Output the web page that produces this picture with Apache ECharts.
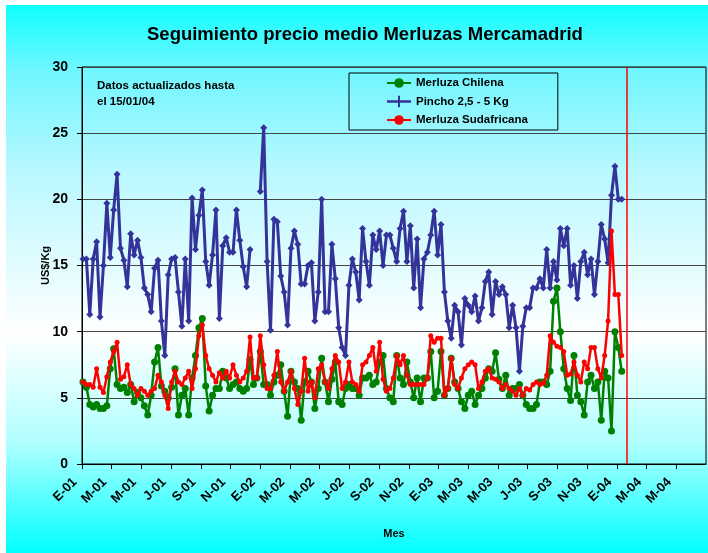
<!DOCTYPE html>
<html>
<head>
<meta charset="utf-8">
<script src="https://cdn.jsdelivr.net/npm/echarts@6/dist/echarts.min.js"></script>
<style>
    html, body { margin: 0; padding: 0; background: #ffffff; }
    #myChart { width: 708px; height: 553px; }
</style>
</head>
<body>
<div id="myChart"></div>
<script>
// semanas: dia 0 = 01/01/2001, un precio medio por semana
const firstDay = 2;
const stepDays = 7;
const monthLetters = ['E', 'F', 'M', 'A', 'M', 'J', 'J', 'A', 'S', 'O', 'N', 'D'];
const seriesNames = ['Merluza Chilena', 'Pincho 2,5 - 5 Kg', 'Merluza Sudafricana'];
const updateDay = 1119; // linea roja vertical

const chilena = [
    6.2, 5.8, 4.5, 4.3, 4.5, 4.2, 4.2, 4.4, 7.2, 8.7,
    6.0, 5.7, 5.8, 5.4, 6.0, 4.7, 5.4, 5.0, 4.4, 3.7,
    5.2, 7.7, 8.8, 5.9, 5.5, 5.0, 5.8, 7.2, 3.7, 5.2,
    5.7, 3.7, 6.5, 8.2, 10.3, 11.0, 5.9, 4.0, 5.2, 5.7,
    5.7, 7.0, 6.5, 5.7, 6.0, 6.2, 5.7, 5.5, 5.7, 7.9,
    6.0, 6.5, 8.5, 6.0, 6.0, 5.2, 6.2, 6.7, 7.5, 5.5,
    3.6, 7.0, 6.2, 5.7, 3.3, 6.2, 7.0, 6.2, 4.2, 5.7,
    8.0, 6.2, 4.7, 6.4, 7.7, 4.7, 4.5, 5.7, 6.0, 5.7,
    5.7, 5.2, 6.5, 6.5, 6.7, 6.0, 6.2, 7.7, 8.2, 5.7,
    5.0, 4.7, 8.2, 6.5, 6.0, 7.7, 6.2, 5.0, 6.5, 4.7,
    6.5, 6.5, 8.5, 5.0, 5.5, 8.5, 5.2, 5.7, 8.0, 6.2,
    5.7, 4.7, 4.2, 5.2, 5.5, 4.5, 5.2, 5.7, 6.5, 7.2,
    7.0, 8.4, 6.4, 5.7, 6.7, 5.2, 5.7, 5.7, 6.0, 5.2,
    4.5, 4.2, 4.2, 4.5, 6.2, 6.2, 6.0, 7.0, 12.3, 13.3,
    10.0, 7.2, 5.7, 4.8, 8.2, 5.2, 4.7, 3.7, 6.2, 6.7,
    5.7, 6.2, 3.3, 7.0, 6.5, 2.5, 10.0, 8.8, 7.0
];

const pincho = [
    15.5, 15.5, 11.3, 15.5, 16.8, 11.1, 15.0, 19.7, 15.6, 19.2,
    21.9, 16.3, 15.4, 13.4, 17.4, 15.8, 16.9, 15.6, 13.3, 12.8,
    11.5, 14.8, 15.4, 10.8, 8.2, 14.3, 15.5, 15.6, 13.0, 10.4,
    15.5, 10.8, 20.1, 16.2, 18.8, 20.7, 15.3, 13.5, 15.8, 19.2,
    11.0, 16.5, 17.1, 16.0, 16.0, 19.2, 16.9, 14.9, 13.4, 16.2,
    null, null, 20.6, 25.4, 15.3, 10.1, 18.5, 18.3, 14.2, 13.0,
    10.5, 16.3, 17.6, 16.6, 13.6, 13.6, 15.0, 15.2, 10.8, 13.0,
    20.0, 11.5, 11.5, 16.6, 14.0, 10.3, 8.8, 8.2, 13.5, 15.5,
    14.5, 12.4, 17.8, 15.3, 13.5, 17.3, 16.2, 17.6, 15.0, 17.3,
    17.3, 16.3, 15.3, 17.8, 19.1, 15.3, 18.0, 13.3, 17.0, 11.8,
    15.5, 16.0, 17.3, 19.1, 15.8, 18.1, 13.0, 10.8, 9.5, 12.0,
    11.5, 9.0, 12.5, 12.0, 11.5, 12.7, 10.8, 11.8, 13.8, 14.5,
    11.3, 13.8, 12.8, 13.4, 12.8, 10.3, 12.0, 10.3, 7.0, 10.4,
    11.8, 11.8, 13.3, 13.3, 14.0, 13.3, 16.2, 13.3, 15.3, 13.9,
    17.8, 16.5, 17.8, 13.5, 15.0, 12.5, 15.3, 16.0, 14.3, 15.5,
    12.8, 15.3, 18.1, 17.0, 15.2, 20.3, 22.5, 20.0, 20.0
];

const sudafricana = [
    6.2, 6.0, 6.0, 5.8, 7.2, 5.8, 5.4, 6.6, 7.7, 8.5,
    9.2, 6.4, 6.6, 7.5, 6.0, 5.7, 5.2, 5.7, 5.5, 5.2,
    5.5, 5.7, 6.7, 6.2, 5.2, 4.2, 6.2, 7.0, 6.2, 6.0,
    6.5, 7.0, 5.7, 7.2, 9.7, 10.5, 8.2, 7.2, 6.7, 6.2,
    6.9, 6.5, 7.0, 6.5, 7.5, 6.7, 6.2, 6.5, 7.0, 9.6,
    6.5, 6.5, 9.7, 7.5, 5.7, 5.7, 6.7, 8.5, 6.2, 5.5,
    6.2, 7.0, 5.7, 4.5, 5.5, 8.0, 5.5, 6.2, 5.0, 7.2,
    7.5, 6.2, 5.7, 7.2, 8.2, 7.7, 5.7, 6.2, 7.7, 6.2,
    6.0, 5.5, 7.5, 7.7, 8.2, 8.8, 7.0, 9.2, 6.4, 5.5,
    5.7, 6.5, 8.2, 7.5, 8.2, 6.7, 6.0, 6.0, 6.0, 6.0,
    6.0, 6.5, 9.7, 9.2, 9.5, 9.5, 5.2, 5.7, 8.0, 6.0,
    5.7, 6.5, 7.2, 7.5, 7.7, 7.5, 5.7, 6.2, 7.0, 7.2,
    6.5, 6.4, 6.2, 5.7, 6.0, 5.7, 5.5, 5.2, 5.7, 5.2,
    5.7, 5.6, 6.0, 6.2, 6.0, 6.1, 6.7, 9.7, 9.2, 8.9,
    8.8, 8.5, 6.7, 6.8, 7.7, 6.7, 6.2, 7.7, 7.2, 8.8,
    8.8, 7.2, 6.5, 8.2, 10.8, 17.6, 12.8, 12.8, 8.2
];

function toPoints(values) {
    return values.map(function (v, i) { return [firstDay + stepDays * i, v]; });
}

function dayLabel(value) {
    let d = new Date(Date.UTC(2001, 0, 1) + value * 86400000);
    return monthLetters[d.getUTCMonth()] + '-' + String(d.getUTCFullYear()).slice(2);
}

let myChart = echarts.init(document.getElementById('myChart'));
let boldText = { fontFamily: 'Liberation Sans, Arial, sans-serif', fontWeight: 'bold', color: '#000000' };

myChart.setOption({
    animation: false,
    backgroundColor: 'transparent',
    textStyle: boldText,
    graphic: [
        {
            type: 'rect', z: -10, silent: true,
            shape: { x: 6, y: 5, width: 702, height: 548 },
            style: {
                fill: new echarts.graphic.LinearGradient(0, 0, 0, 1, [
                    { offset: 0, color: '#10ffff' },
                    { offset: 0.12, color: '#70f6ff' },
                    { offset: 0.3, color: '#b8f8ff' },
                    { offset: 0.6, color: '#ffffff' },
                    { offset: 0.8, color: '#b0ffff' },
                    { offset: 1, color: '#00ffff' }
                ])
            }
        },
        {
            type: 'text', left: 97, top: 78,
            style: {
                text: 'Datos actualizados hasta\nel 15/01/04',
                font: 'bold 11.5px Liberation Sans, Arial, sans-serif',
                fill: '#000000',
                lineHeight: 16
            }
        }
    ],
    title: {
        text: 'Seguimiento precio medio Merluzas Mercamadrid',
        left: 142,
        top: 20,
        textStyle: Object.assign({}, boldText, { fontSize: 18.5 })
    },
    legend: {
        data: [
            { name: seriesNames[0] },
            { name: seriesNames[1], icon: 'path://M0,4.5 L24,4.5 L24,7 L0,7 Z M11,0 L13,0 L13,11.5 L11,11.5 Z' },
            { name: seriesNames[2] }
        ],
        orient: 'vertical',
        left: 349,
        top: 73,
        padding: [4, 30, 4, 37],
        itemGap: 6.5,
        itemWidth: 24,
        itemHeight: 12,
        borderColor: '#000000',
        borderWidth: 1,
        textStyle: Object.assign({}, boldText, { fontSize: 11.5 })
    },
    grid: {
        left: 82, right: 2, top: 67, bottom: 89,
        show: true,
        borderColor: '#000000',
        borderWidth: 1,
        backgroundColor: 'transparent',
        outerBoundsMode: 'none'
    },
    xAxis: {
        type: 'value',
        min: 0,
        max: 1281,
        interval: 61,
        name: 'Mes',
        nameLocation: 'middle',
        nameGap: 64,
        nameMoveOverlap: false,
        nameTextStyle: Object.assign({}, boldText, { fontSize: 11 }),
        axisLine: { show: true, lineStyle: { color: '#000000', width: 1 } },
        axisTick: { show: true, length: 5, lineStyle: { color: '#000000' } },
        axisLabel: Object.assign({}, boldText, {
            fontSize: 13,
            rotate: 45,
            margin: 9,
            padding: [0, 10, 0, 0],
            showMaxLabel: false,
            formatter: dayLabel
        }),
        splitLine: { show: false }
    },
    yAxis: {
        type: 'value',
        min: 0,
        max: 30,
        interval: 5,
        name: 'US$/Kg',
        nameLocation: 'middle',
        nameRotate: 90,
        nameGap: 31,
        nameMoveOverlap: false,
        nameTextStyle: Object.assign({}, boldText, { fontSize: 11 }),
        axisLine: { show: true, lineStyle: { color: '#000000', width: 1 } },
        axisTick: { show: true, inside: false, length: 5, lineStyle: { color: '#000000' } },
        axisLabel: Object.assign({}, boldText, { fontSize: 14, margin: 14 }),
        splitLine: { show: true, lineStyle: { color: '#444444', width: 1 } }
    },
    series: [
        {
            name: seriesNames[0],
            type: 'line',
            data: toPoints(chilena),
            color: '#008000',
            symbol: 'circle',
            symbolSize: 7,
            lineStyle: { width: 2.5, color: '#008000' },
            itemStyle: { color: '#008000' },
            z: 3
        },
        {
            name: seriesNames[1],
            type: 'line',
            data: toPoints(pincho),
            color: '#333399',
            symbol: 'diamond',
            symbolSize: 7,
            lineStyle: { width: 3, color: '#333399' },
            itemStyle: { color: '#333399' },
            z: 2
        },
        {
            name: seriesNames[2],
            type: 'line',
            data: toPoints(sudafricana),
            color: '#ff0000',
            symbol: 'circle',
            symbolSize: 5,
            lineStyle: { width: 2.5, color: '#ff0000' },
            itemStyle: { color: '#ff0000' },
            z: 4,
            markLine: {
                silent: true,
                symbol: 'none',
                label: { show: false },
                lineStyle: { color: '#ff0000', width: 1.5, type: 'solid' },
                data: [{ xAxis: updateDay }]
            }
        }
    ]
});
</script>
</body>
</html>
